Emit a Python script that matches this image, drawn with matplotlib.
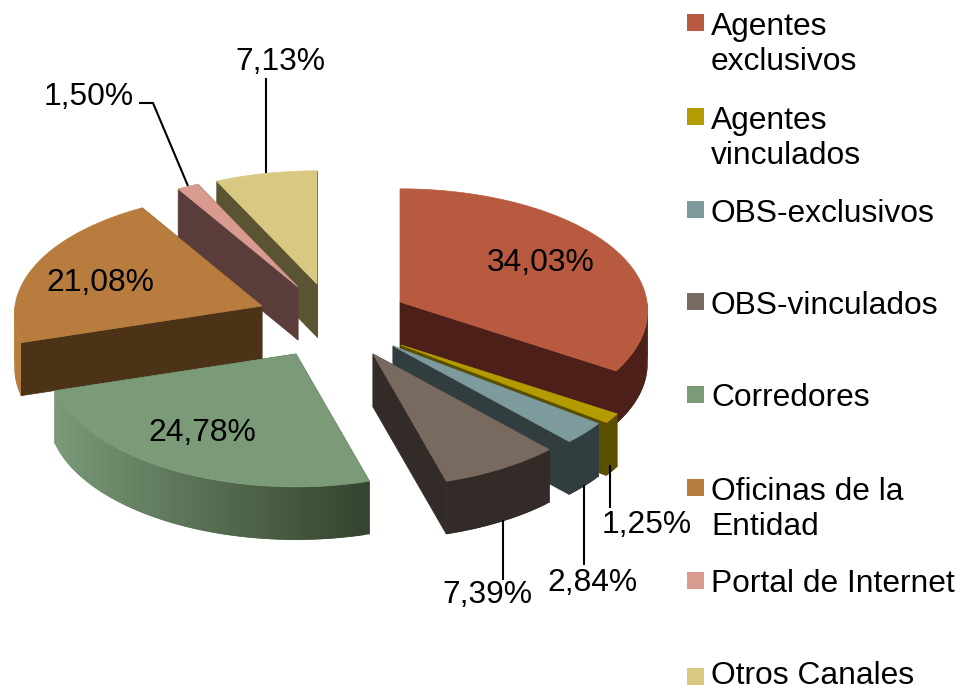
import numpy as np
import matplotlib
matplotlib.use("Agg")
import matplotlib.pyplot as plt
from matplotlib.patches import Polygon, Rectangle

# ---- data ----
categories = ["Agentes\nexclusivos", "Agentes\nvinculados", "OBS-exclusivos", "OBS-vinculados",
              "Corredores", "Oficinas de la\nEntidad", "Portal de Internet", "Otros Canales"]
values = [34.03, 1.25, 2.84, 7.39, 24.78, 21.08, 1.50, 7.13]
value_labels = ["34,03%", "1,25%", "2,84%", "7,39%", "24,78%", "21,08%", "1,50%", "7,13%"]

# ---- style / layout ----
top_colors = ["#B85A40", "#B39B00", "#7D9B9D", "#796A60", "#7A9A78", "#B87D3E", "#D99A90", "#D8C882"]
side_colors = ["#4C2018", "#5A4E00", "#313D3E", "#332B27", "#35452F", "#4C3216", "#5A3D3B", "#5A5433"]
apex_x = [400, 401, 393, 373, 296, 262, 298, 317]
apex_y = [302, 345, 346, 354, 354, 306, 287, 284]
label_xy = [(541, 263), (647, 525), (592, 583), (487, 595), (202, 433), (100, 283), (89, 97), (280, 62)]
leaders = [None, [(610, 465), (610, 508)], [(584, 485), (584, 565)], [(503, 520), (503, 580)],
           None, None, [(139, 103), (153, 103), (188, 186)], [(266, 78), (266, 173)]]
legend_y = [22.5, 116.5, 209, 301, 394, 487, 580, 676]
text_shift = [3, 3, 3, 3, 3, 4, 3, -2]
RX, RY, KX, KY, DEPTH = 247, 123, 0.07, 0.08, 53
FS = 22.9
plt.rcParams["font.family"] = ["Liberation Sans"]


def hex2rgb(c):
    return np.array(matplotlib.colors.to_rgb(c))


def project(theta_deg, ax0, ay0):
    t = np.radians(theta_deg)
    u, v = np.sin(t), np.cos(t)
    return ax0 + RX * u * (1 - KX * v), ay0 - RY * v * (1 - KY * v)


fig = plt.figure(figsize=(9.63, 6.89), dpi=100)
ax = fig.add_axes([0, 0, 1, 1])
ax.set_xlim(0, 963)
ax.set_ylim(689, 0)
ax.axis("off")

total = sum(values)
edges = np.concatenate([[0], np.cumsum(values) / total * 360])


def depth_key(i):
    mid = (edges[i] + edges[i + 1]) / 2
    return apex_y[i] - RY * np.cos(np.radians(mid))


order = sorted(range(len(values)), key=depth_key)
for z, i in enumerate(order):
    a0, a1 = edges[i], edges[i + 1]
    ax0, ay0 = apex_x[i], apex_y[i]
    top, side = hex2rgb(top_colors[i]), hex2rgb(side_colors[i])
    base = 2 + z * 3
    for a in (a0, a1):
        x, y = project(a, ax0, ay0)
        ax.add_patch(Polygon([(ax0, ay0), (x, y), (x, y + DEPTH), (ax0, ay0 + DEPTH)],
                             closed=True, fc=side, ec=side, lw=0.5, zorder=base))
    lo, hi = max(a0, 90), min(a1, 270)
    if hi > lo:
        steps = np.linspace(lo, hi, max(int(hi - lo), 2) + 1)
        for k in range(len(steps) - 1):
            s0 = steps[k]
            s1 = steps[min(k + 2, len(steps) - 1)]
            x0, y0 = project(s0, ax0, ay0)
            xm, ym = project(steps[k + 1], ax0, ay0)
            x1, y1 = project(s1, ax0, ay0)
            m = np.radians((s0 + steps[k + 1]) / 2)
            t = np.clip((-np.sin(m) + 0.25) / 1.2, 0, 1)
            col = side + (top - side) * t
            ax.add_patch(Polygon([(x0, y0), (xm, ym), (x1, y1), (x1, y1 + DEPTH), (xm, ym + DEPTH),
                                  (x0, y0 + DEPTH)],
                                 closed=True, fc=col, ec="none", zorder=base + 1))
    arc = np.linspace(a0, a1, max(int(a1 - a0) * 2, 4))
    xs, ys = project(arc, ax0, ay0)
    ax.add_patch(Polygon([(ax0, ay0)] + list(zip(xs, ys)), closed=True, fc=top, ec=top,
                         lw=0.5, zorder=base + 2))

for i, (lab, (x, y)) in enumerate(zip(value_labels, label_xy)):
    ax.text(x, y, lab, fontsize=FS, ha="center", va="center", color="black", zorder=100)
    if leaders[i]:
        lx, ly = zip(*leaders[i])
        ax.plot(lx, ly, color="black", lw=1.5, zorder=90, solid_capstyle="butt")

for cat, col, y, dy in zip(categories, top_colors, legend_y, text_shift):
    ax.add_patch(Rectangle((687, y - 8.5), 17, 17, fc=col, ec="none", zorder=50))
    ax.text(711, y - 13.5 + dy, cat, fontsize=FS, ha="left", va="top", linespacing=1.21,
            color="black", zorder=100)

fig.savefig("out.png", dpi=100)
